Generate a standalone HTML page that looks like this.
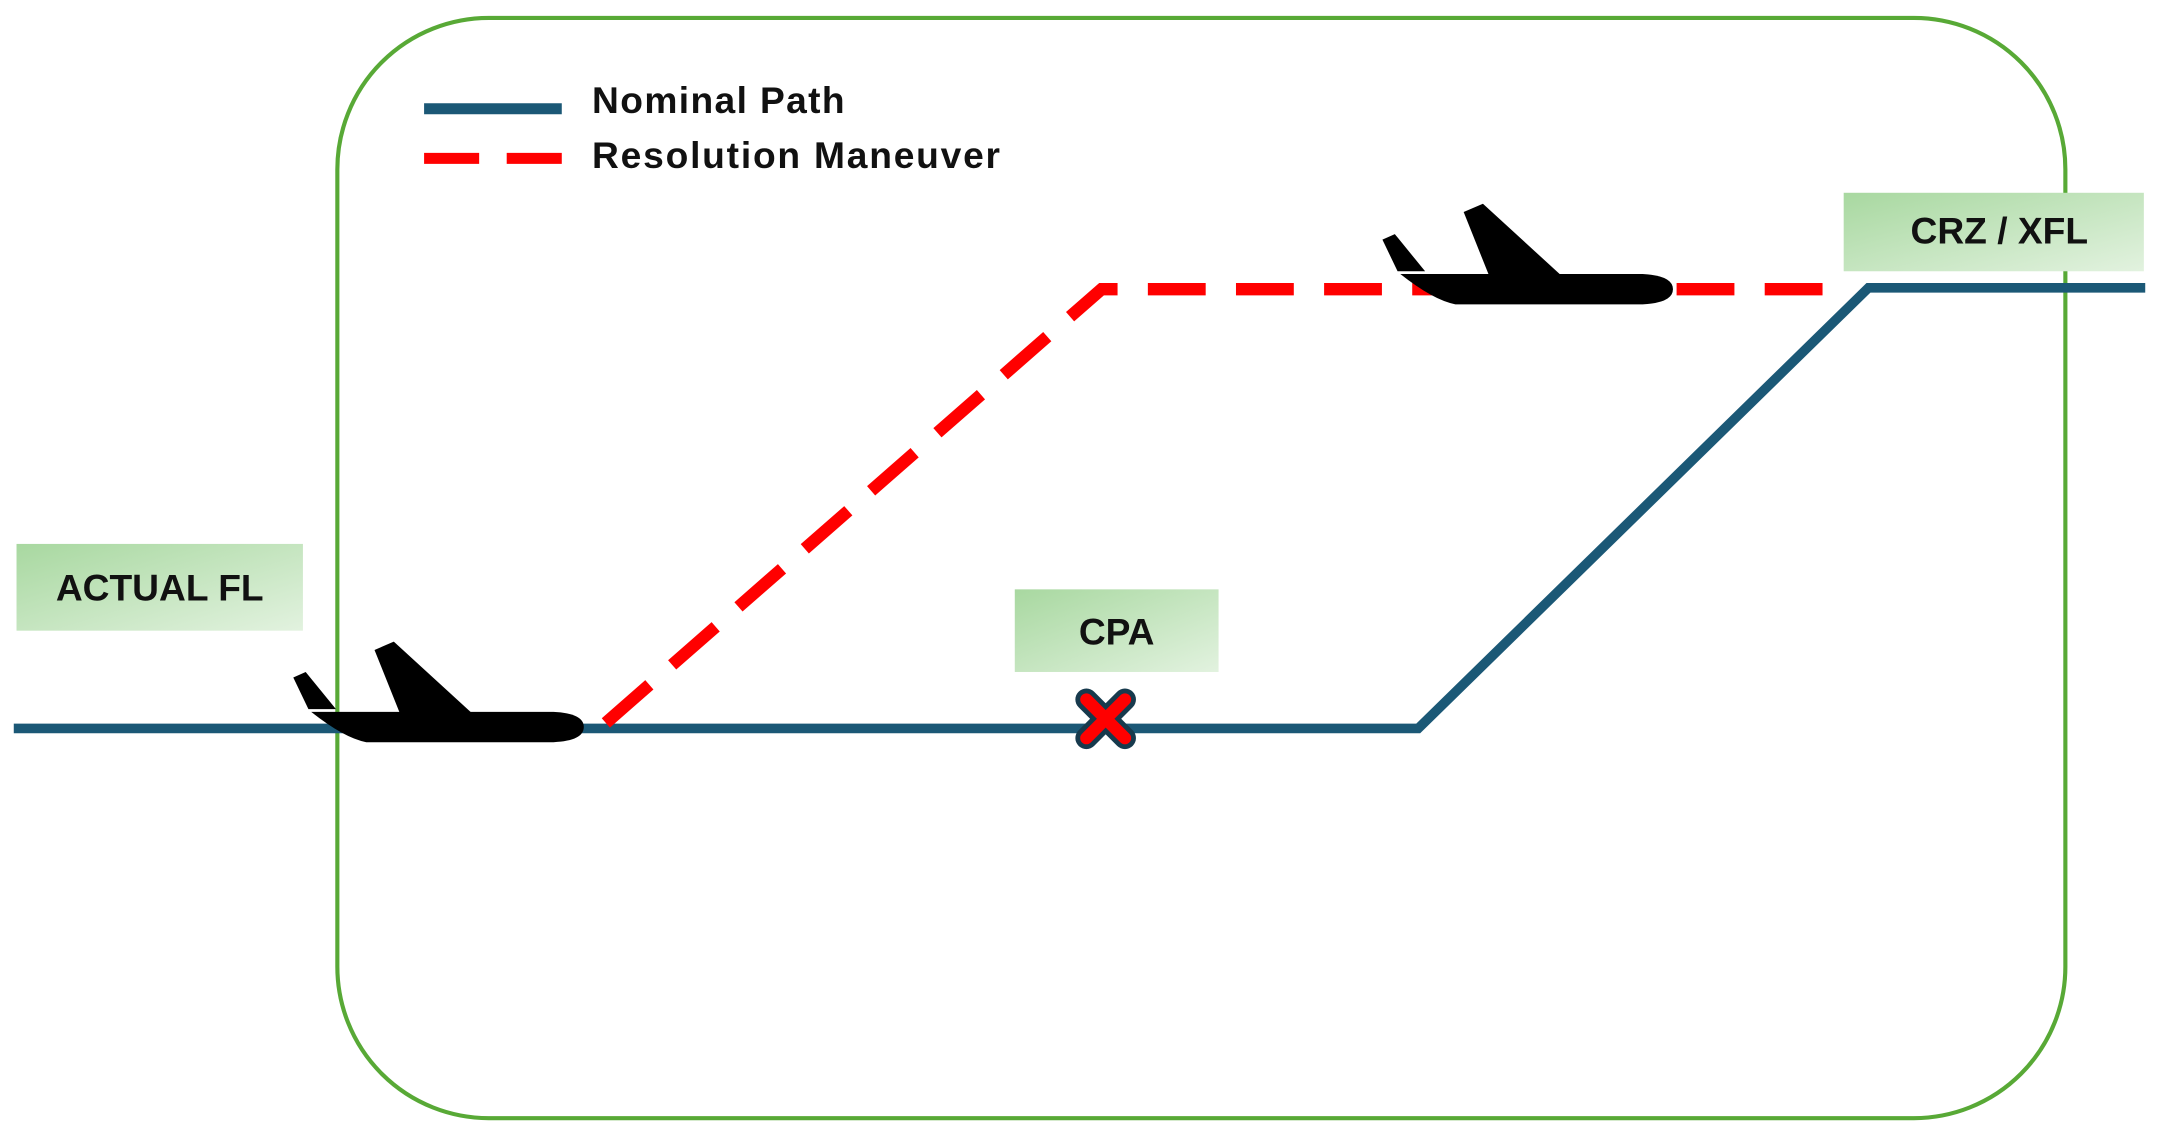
<!DOCTYPE html>
<html><head><meta charset="utf-8"><style>
html,body{margin:0;padding:0;background:#fff;}
svg{display:block;}
text{font-family:"Liberation Sans",sans-serif;font-weight:bold;fill:#111;}
</style></head><body>
<svg width="2159" height="1133" viewBox="0 0 1568 822.8" preserveAspectRatio="none" xmlns="http://www.w3.org/2000/svg">
<defs>
<linearGradient id="g" x1="0" y1="0" x2="1" y2="1">
<stop offset="0" stop-color="#a8d8a0"/><stop offset="1" stop-color="#e2f2df"/>
</linearGradient>
</defs>
<rect x="245" y="13" width="1255" height="799" rx="110" ry="110" fill="none" stroke="#58a936" stroke-width="3"/>
<!-- legend -->
<line x1="308" y1="79" x2="408" y2="79" stroke="#1b5876" stroke-width="8"/>
<line x1="308" y1="115" x2="348" y2="115" stroke="#f00" stroke-width="8"/>
<line x1="368" y1="115" x2="408" y2="115" stroke="#f00" stroke-width="8"/>
<text x="430" y="82" font-size="27" letter-spacing="1">Nominal Path</text>
<text x="430" y="122" font-size="27" letter-spacing="1.3">Resolution Maneuver</text>
<!-- boxes -->
<rect x="12" y="395" width="208" height="63" fill="url(#g)"/>
<text x="116" y="436" font-size="27" text-anchor="middle">ACTUAL FL</text>
<rect x="737" y="428" width="148" height="60" fill="url(#g)"/>
<text x="811" y="468" font-size="27" text-anchor="middle">CPA</text>
<rect x="1339" y="140" width="218" height="57" fill="url(#g)"/>
<text x="1452" y="177" font-size="27" text-anchor="middle">CRZ / XFL</text>
<!-- paths -->
<polyline points="10,529 1030,529 1357,209 1558,209" fill="none" stroke="#1b5876" stroke-width="7"/>
<polyline points="440,525 800,210 1330,210" fill="none" stroke="#f00" stroke-width="9" stroke-dasharray="42,22"/>
<!-- X -->
<g transform="translate(803,522)" stroke-linecap="round">
<line x1="-14" y1="-14" x2="14" y2="14" stroke="#173a4d" stroke-width="16"/>
<line x1="14" y1="-14" x2="-14" y2="14" stroke="#173a4d" stroke-width="16"/>
<line x1="-14" y1="-14" x2="14" y2="14" stroke="#f00" stroke-width="9"/>
<line x1="14" y1="-14" x2="-14" y2="14" stroke="#f00" stroke-width="9"/>
</g>
<!-- planes -->
<g id="p">
<path d="M226,517 L402,517 Q424,518 424,528 Q424,538 402,539 L266,539 Q250,536 226,517 Z" fill="#000"/>
<path d="M272,472 L286,466 L345,520 L292,522 Z" fill="#000"/>
<path d="M213,492 L222,488 L244,515 L224,515 Z" fill="#000"/>
</g>
<use href="#p" transform="translate(791,-318)"/>
</svg>
</body></html>
